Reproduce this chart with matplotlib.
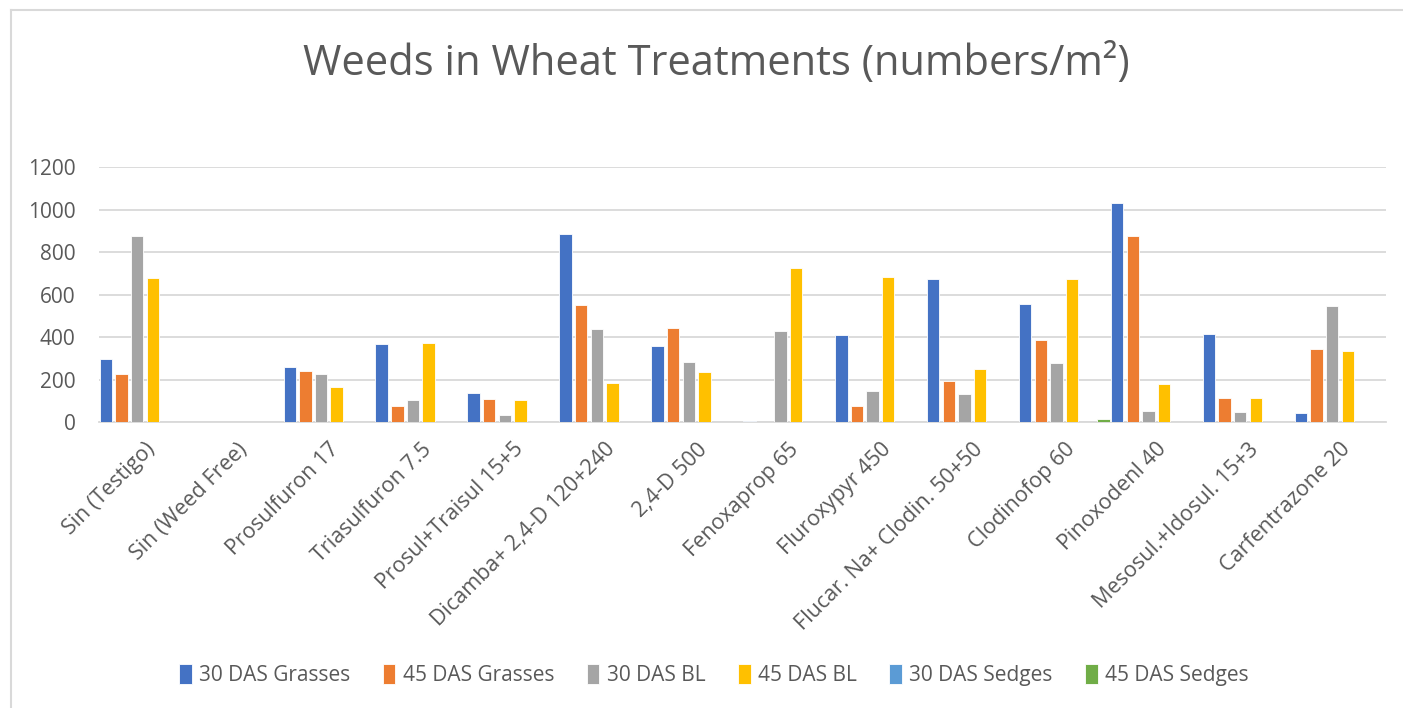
import matplotlib
matplotlib.use("Agg")
import matplotlib.pyplot as plt
from matplotlib.lines import Line2D
import numpy as np

plt.rcParams['font.family'] = ['Open Sans', 'DejaVu Sans']

categories = [
    "Sin (Testigo)", "Sin (Weed Free)", "Prosulfuron 17", "Triasulfuron 7.5",
    "Prosul+Traisul 15+5", "Dicamba+ 2,4-D 120+240", "2,4-D 500",
    "Fenoxaprop 65", "Fluroxypyr 450", "Flucar. Na+ Clodin. 50+50",
    "Clodinofop 60", "Pinoxodenl 40", "Mesosul.+Idosul. 15+3", "Carfentrazone 20",
]

das30_grasses = [298, 0, 259, 367, 138, 886, 358, 6, 411, 675, 555, 1031, 416, 42]
das45_grasses = [227, 0, 243, 78, 108, 552, 442, 0, 75, 194, 387, 875, 115, 347]
das30_bl = [875, 0, 227, 104, 35, 439, 284, 430, 147, 132, 279, 55, 47, 547]
das45_bl = [681, 0, 168, 372, 104, 187, 235, 726, 684, 251, 676, 180, 113, 336]
das30_sedges = [0, 0, 0, 0, 0, 0, 0, 0, 0, 0, 0, 0, 0, 0]
das45_sedges = [0, 0, 0, 0, 0, 0, 0, 0, 0, 0, 17, 0, 0, 0]

series_names = ["30 DAS Grasses", "45 DAS Grasses", "30 DAS BL",
                "45 DAS BL", "30 DAS Sedges", "45 DAS Sedges"]
series_values = [das30_grasses, das45_grasses, das30_bl,
                 das45_bl, das30_sedges, das45_sedges]
colors = ["#4472C4", "#ED7D31", "#A5A5A5", "#FFC000", "#5B9BD5", "#70AD47"]

TEXT = "#595959"
GRID = "#D9D9D9"

W, H = 1403, 708
fig = plt.figure(figsize=(W / 100, H / 100), dpi=100)

# chart frame: left and top edges
fig.lines.append(Line2D([11 / W, 11 / W], [0, 1 - 10 / H], transform=fig.transFigure,
                        color=GRID, linewidth=1.5))
fig.lines.append(Line2D([11 / W, 1], [1 - 10 / H, 1 - 10 / H], transform=fig.transFigure,
                        color=GRID, linewidth=1.5))

left, right = 99 / W, 1386 / W
bottom, top = (H - 422.3) / H, (H - 167.3) / H
ax = fig.add_axes([left, bottom, right - left, top - bottom])

x = np.arange(len(categories))
pitch = 0.17
width = 0.135
for i, (name, vals, c) in enumerate(zip(series_names, series_values, colors)):
    ax.bar(x + (i - 2.5) * pitch, vals, width=width, color=c, label=name,
           edgecolor="white", linewidth=0.6, zorder=3)

ax.set_xlim(-0.5, len(categories) - 0.5)
ax.set_ylim(0, 1200)
ax.set_yticks(np.arange(0, 1201, 200))
ax.yaxis.grid(True, color=GRID, linewidth=1.3, zorder=0)
ax.set_axisbelow(True)
for s in ["top", "right", "left"]:
    ax.spines[s].set_visible(False)
ax.spines["bottom"].set_color(GRID)
ax.spines["bottom"].set_linewidth(1.3)
ax.tick_params(axis="both", length=0, colors=TEXT)
ax.tick_params(axis="y", pad=17, labelsize=15)

ax.set_xticks(x)
ax.set_xticklabels(categories, rotation=45, ha="right", rotation_mode="anchor",
                   fontsize=15.5)
ax.tick_params(axis="x", pad=12)

fig.text(716 / W, 1 - 64 / H, "Weeds in Wheat Treatments (numbers/m²)",
         ha="center", va="center", color=TEXT, fontsize=30)

leg = fig.legend(loc="center", bbox_to_anchor=(714 / W, 1 - 675 / H), ncol=6,
                 frameon=False, fontsize=15, handlelength=0.6, handleheight=1.1,
                 handletextpad=0.35, columnspacing=1.57, labelcolor=TEXT)

fig.savefig("out.png", dpi=100)
